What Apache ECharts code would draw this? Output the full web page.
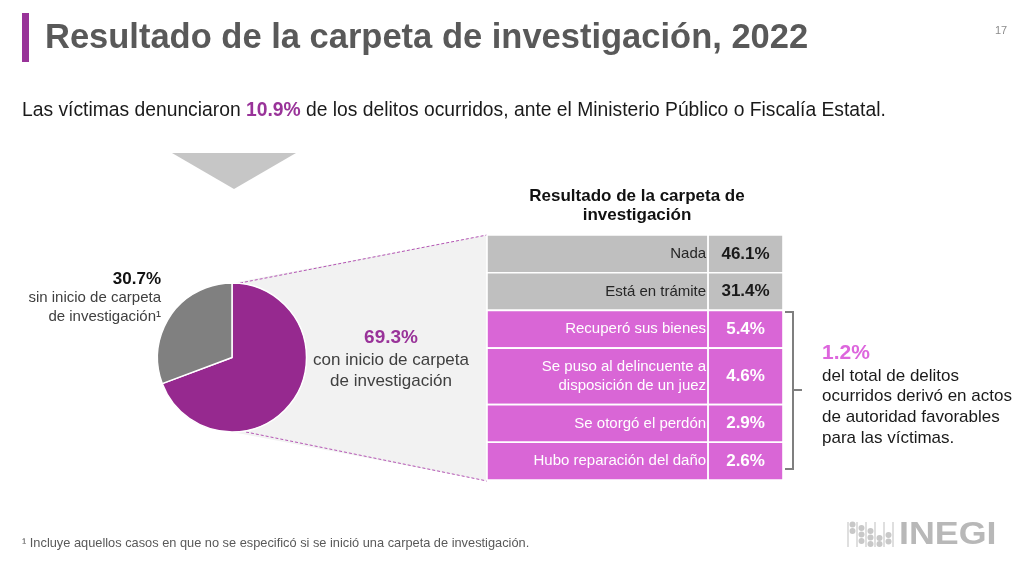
<!DOCTYPE html>
<html>
<head>
<meta charset="utf-8">
<script src="https://cdn.jsdelivr.net/npm/echarts@6/dist/echarts.min.js"></script>
<style>
  html, body { margin: 0; padding: 0; background: #ffffff; }
  #chart { width: 1024px; height: 571px; }
</style>
</head>
<body>
<div id="chart"></div>
<script>
// ---------------- DATA ----------------
const titleText = 'Resultado de la carpeta de investigación, 2022';
const pageNumber = '17';
const reportedShare = 10.9;
const favorableShare = 1.2;

const pieNames = ['con inicio de carpeta\nde investigación', 'sin inicio de carpeta\nde investigación¹'];
const pieValues = [69.3, 30.7];

const tableTitle = 'Resultado de la carpeta de\ninvestigación';
const resultCategories = [
  'Nada',
  'Está en trámite',
  'Recuperó sus bienes',
  'Se puso al delincuente a\ndisposición de un juez',
  'Se otorgó el perdón',
  'Hubo reparación del daño'
];
const resultValues = [46.1, 31.4, 5.4, 4.6, 2.9, 2.6];
const favorableRows = [false, false, true, true, true, true];

const favorableNote = 'del total de delitos\nocurridos derivó en actos\nde autoridad favorables\npara las víctimas.';
const footnote = '¹ Incluye aquellos casos en que no se especificó si se inició una carpeta de investigación.';

// ---------------- STYLE ----------------
const FONT = '"Liberation Sans", Arial, sans-serif';
const PURPLE = '#96298f';
const PINK = '#d966d6';
const GRAY_CELL = '#bfbfbf';
const PIE_COLORS = [PURPLE, '#808080'];
const LABEL_COL = 0.747;

// row spans derived from number of text lines
const rowUnits = resultCategories.map(c => 1 + (c.split('\n').length - 1) * 0.5);
const rowStarts = [];
let acc = 0;
rowUnits.forEach(u => { rowStarts.push(acc); acc += u; });
const totalUnits = acc;
const tableData = resultCategories.map((c, i) => [rowStarts[i], rowStarts[i] + rowUnits[i], resultValues[i]]);

function txt(x, y, text, opts) {
  const s = Object.assign({
    text: text, fill: '#262626', fontFamily: FONT, fontSize: 15,
    align: 'left', verticalAlign: 'middle'
  }, opts || {});
  s.textAlign = s.align; s.textVerticalAlign = s.verticalAlign;
  return { type: 'text', x: x, y: y, z: 20, style: s, silent: true };
}

// INEGI logo mark (decorative)
const logoParts = [];
[848, 857, 866, 875, 884, 893].forEach(x => {
  logoParts.push({ type: 'line', z: 20, silent: true, shape: { x1: x, y1: 522, x2: x, y2: 547 }, style: { stroke: '#d2d2d2', lineWidth: 1.4 } });
});
const dotCols = [[852.5, [524.5, 531]], [861.5, [528, 534.5, 541]], [870.5, [531, 537.5, 544]], [879.5, [538, 544]], [888.5, [535, 541.5]]];
dotCols.forEach(([x, ys]) => ys.forEach(y => {
  logoParts.push({ type: 'circle', z: 20, silent: true, shape: { cx: x, cy: y, r: 3 }, style: { fill: '#c8c8c8' } });
}));

const chart = echarts.init(document.getElementById('chart'), null, { renderer: 'canvas' });

const option = {
  backgroundColor: '#ffffff',
  animation: false,
  grid: { left: 487, top: 235, width: 296, height: 245, containLabel: false },
  xAxis: { type: 'value', min: 0, max: 1, show: false },
  yAxis: { type: 'value', min: 0, max: totalUnits, inverse: true, show: false },
  series: [
    {
      type: 'pie',
      z: 5,
      center: [232, 357.5],
      radius: 74.5,
      startAngle: 90,
      clockwise: true,
      silent: true,
      label: { show: false },
      labelLine: { show: false },
      itemStyle: { borderColor: '#ffffff', borderWidth: 1.5 },
      data: pieValues.map((v, i) => ({ value: v, name: pieNames[i], itemStyle: { color: PIE_COLORS[i] } }))
    },
    {
      type: 'custom',
      z: 5,
      silent: true,
      data: tableData,
      renderItem: function (params, api) {
        const i = params.dataIndex;
        const p0 = api.coord([0, api.value(0)]);
        const p1 = api.coord([1, api.value(1)]);
        const xs = api.coord([LABEL_COL, 0])[0];
        const fav = favorableRows[i];
        const bg = fav ? PINK : GRAY_CELL;
        const tc = fav ? '#ffffff' : '#262626';
        const vc = fav ? '#ffffff' : '#1a1a1a';
        const h = p1[1] - p0[1];
        const cy = p0[1] + h / 2;
        return {
          type: 'group',
          children: [
            { type: 'rect', shape: { x: p0[0], y: p0[1], width: xs - p0[0], height: h }, style: { fill: bg, stroke: '#ffffff', lineWidth: 1.6 } },
            { type: 'rect', shape: { x: xs, y: p0[1], width: p1[0] - xs, height: h }, style: { fill: bg, stroke: '#ffffff', lineWidth: 1.6 } },
            { type: 'text', style: { text: resultCategories[i], x: xs - 2, y: cy, align: 'right', textAlign: 'right', verticalAlign: 'middle', textVerticalAlign: 'middle', fill: tc, fontFamily: FONT, fontSize: 15, lineHeight: 19 } },
            { type: 'text', style: { text: api.value(2).toFixed(1) + '%', x: (xs + p1[0]) / 2, y: cy, align: 'center', textAlign: 'center', verticalAlign: 'middle', textVerticalAlign: 'middle', fill: vc, fontFamily: FONT, fontSize: 17, fontWeight: 'bold' } }
          ]
        };
      }
    }
  ],
  graphic: [
    // title bar & title
    { type: 'rect', z: 20, silent: true, shape: { x: 22, y: 13, width: 7, height: 49 }, style: { fill: '#993399' } },
    txt(45, 38, titleText, { fontSize: 34.5, fontWeight: 'bold', fill: '#595959' }),
    txt(1001, 31, pageNumber, { fontSize: 11, fill: '#8c8c8c', align: 'center' }),
    // subtitle with highlighted value
    txt(22, 111, 'Las víctimas denunciaron {b|' + reportedShare.toFixed(1) + '%} de los delitos ocurridos, ante el Ministerio Público o Fiscalía Estatal.', {
      fontSize: 19.3, fill: '#1a1a1a',
      rich: { b: { fill: '#993399', fontWeight: 'bold', fontSize: 19.3, fontFamily: FONT } }
    }),
    // triangle
    { type: 'polygon', z: 1, silent: true, shape: { points: [[172, 153], [296, 153], [234, 189]] }, style: { fill: '#c6c6c6' } },
    // zoom band
    { type: 'polygon', z: 0, silent: true, shape: { points: [[232, 283], [487, 235], [487, 481], [232, 432]] }, style: { fill: '#f2f2f2' } },
    { type: 'line', z: 1, silent: true, shape: { x1: 240, y1: 283, x2: 487, y2: 235 }, style: { stroke: '#b455b4', lineWidth: 1, lineDash: [3, 2] } },
    { type: 'line', z: 1, silent: true, shape: { x1: 246, y1: 432, x2: 487, y2: 481 }, style: { stroke: '#b455b4', lineWidth: 1, lineDash: [3, 2] } },
    // pie annotations
    txt(161, 279, pieValues[1].toFixed(1) + '%', { fontSize: 17, fontWeight: 'bold', fill: '#111111', align: 'right' }),
    txt(161, 307.5, pieNames[1], { fontSize: 15, fill: '#404040', align: 'right', lineHeight: 19 }),
    txt(391, 338, pieValues[0].toFixed(1) + '%', { fontSize: 19, fontWeight: 'bold', fill: '#993399', align: 'center' }),
    txt(391, 370.5, pieNames[0], { fontSize: 17, fill: '#404040', align: 'center', lineHeight: 21 }),
    // table header
    txt(637, 205.5, tableTitle, { fontSize: 17, fontWeight: 'bold', fill: '#111111', align: 'center', lineHeight: 19 }),
    // bracket
    { type: 'polyline', z: 20, silent: true, shape: { points: [[785, 312], [793, 312], [793, 469], [785, 469]] }, style: { stroke: '#7f7f7f', lineWidth: 2, fill: null } },
    { type: 'line', z: 20, silent: true, shape: { x1: 793, y1: 390, x2: 802, y2: 390 }, style: { stroke: '#7f7f7f', lineWidth: 2 } },
    // favorable note
    txt(822, 353, favorableShare.toFixed(1) + '%', { fontSize: 21, fontWeight: 'bold', fill: '#dd66dd' }),
    txt(822, 407, favorableNote, { fontSize: 17, fill: '#1a1a1a', lineHeight: 20.7 }),
    // footnote
    txt(22, 543, footnote, { fontSize: 12.8, fill: '#595959' }),
    // logo
    ...logoParts,
    { type: 'text', x: 899, y: 535, z: 20, silent: true, scaleX: 1.12, style: { text: 'INEGI', fontFamily: FONT, fontSize: 32, fontWeight: 'bold', fill: '#b8b8b8', align: 'left', textAlign: 'left', verticalAlign: 'middle', textVerticalAlign: 'middle' } }
  ]
};

chart.setOption(option);
</script>
</body>
</html>
